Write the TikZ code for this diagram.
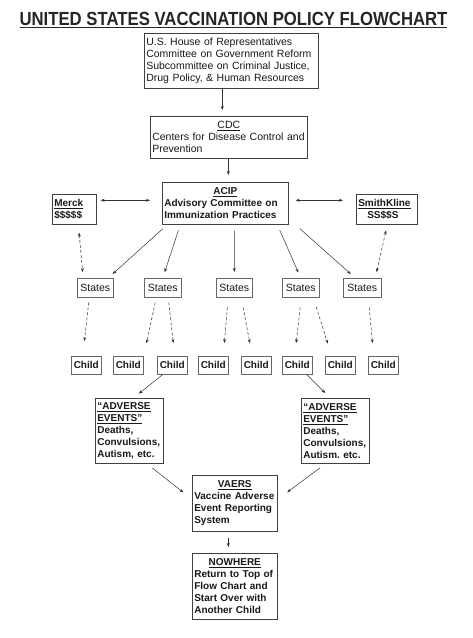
\documentclass[tikz,border=0pt]{standalone}
\usepackage{fontspec}
\setmainfont{Liberation Sans}
\usepackage{graphicx}
\usetikzlibrary{positioning,arrows.meta}

\begin{document}
\begin{tikzpicture}[
  x=1pt, y=-1pt,
  box/.style={rectangle, draw=black!75, line width=0.6pt, inner sep=2pt, anchor=north west, align=left, text=black!90, font=\fontsize{10.5}{12}\selectfont},
  boldbox/.style={box, font=\fontsize{10}{12}\selectfont\bfseries},
  statebox/.style={rectangle, draw=black!60, line width=0.5pt, inner sep=0pt, anchor=north west, minimum height=19pt, align=center, text=black!90, font=\fontsize{10.5}{12}\selectfont},
  childbox/.style={statebox, minimum width=30pt, minimum height=18pt, font=\fontsize{10}{12}\selectfont\bfseries},
  flow/.style={-{Stealth[length=4pt,width=3pt]}, line width=0.5pt, black!80},
  twoway/.style={flow, {Stealth[length=4pt,width=3pt]}-{Stealth[length=4pt,width=3pt]}},
  dashflow/.style={flow, dash pattern=on 3pt off 2pt}
]

\useasboundingbox[fill=white] (0,0) rectangle (472,638);

% Title
\node[text=black!85, font=\fontsize{19}{21}\selectfont\bfseries] (title) at (233.5,20) {\scalebox{0.88}[1]{\underline{UNITED STATES VACCINATION POLICY FLOWCHART}}};

% Top of chain
\node[box, text width=170pt, minimum height=55pt] (house) at (144,33) {U.S. House of Representatives\\Committee on Government Reform\\Subcommittee on Criminal Justice,\\Drug Policy, \& Human Resources};
\node[box, text width=153pt, minimum height=42pt] (cdc) at (150,116) {\makebox[\linewidth]{\underline{CDC}}\\Centers for Disease Control and\\Prevention};
\node[boldbox, text width=122pt, minimum height=42pt] (acip) at (162,182) {\makebox[\linewidth]{\underline{ACIP}}\\Advisory Committee on\\Immunization Practices};

% Drug companies
\node[boldbox, text width=40pt, minimum height=30pt] (merck) at (52,194) {\underline{Merck}\\\$\$\$\$\$};
\node[boldbox, text width=57pt, minimum height=30pt] (smith) at (356,194) {\underline{SmithKline}\\\hspace*{9pt}SS\$\$S};

% States
\node[statebox, minimum width=36pt] (st1) at (77,278) {States};
\node[statebox, minimum width=37pt] (st2) at (144,278) {States};
\node[statebox, minimum width=36pt] (st3) at (216,278) {States};
\node[statebox, minimum width=37pt] (st4) at (282,278) {States};
\node[statebox, minimum width=38pt] (st5) at (343,278) {States};

% Children
\node[childbox] (ch1) at (71,356) {Child};
\node[childbox] (ch2) at (113,356) {Child};
\node[childbox] (ch3) at (157,356) {Child};
\node[childbox] (ch4) at (198,356) {Child};
\node[childbox] (ch5) at (241,356) {Child};
\node[childbox] (ch6) at (282,356) {Child};
\node[childbox] (ch7) at (325,356) {Child};
\node[childbox] (ch8) at (368,356) {Child};

% Adverse events
\node[boldbox, text width=64pt, minimum height=65pt] (adv1) at (95,398) {\underline{“ADVERSE}\\\underline{EVENTS”}\\Deaths,\\Convulsions,\\Autism, etc.};
\node[boldbox, text width=64pt, minimum height=65pt] (adv2) at (301,398) {\underline{“ADVERSE}\\\underline{EVENTS”}\\Deaths,\\Convulsions,\\Autism.\ etc.};

% Bottom of chain
\node[boldbox, text width=81pt, minimum height=56pt] (vaers) at (192,475) {\makebox[\linewidth]{\underline{VAERS}}\\Vaccine Adverse\\Event Reporting\\System};
\node[boldbox, text width=81pt, minimum height=66pt] (nowhere) at (192,553) {\makebox[\linewidth]{\underline{NOWHERE}}\\Return to Top of\\Flow Chart and\\Start Over with\\Another Child};

% Main line
\draw[flow, shorten >=6pt] ([xshift=-9pt]house.south) -- ([xshift=-6.5pt]cdc.north);
\draw[flow, shorten >=7pt] ([xshift=-0.5pt]cdc.south) -- ([xshift=3pt]acip.north);
\draw[twoway, shorten <=4pt, shorten >=12pt] ([yshift=9pt]merck.east) -- ([yshift=3pt]acip.west);
\draw[twoway, shorten <=7pt, shorten >=13pt] ([yshift=3pt]acip.east) -- ([yshift=9pt]smith.west);

% ACIP to states
\draw[flow, shorten <=6pt, shorten >=6pt] ([xshift=-58pt]acip.south) -- ([xshift=13pt]st1.north);
\draw[flow, shorten <=6pt, shorten >=6pt] ([xshift=-45pt]acip.south) -- (st2.north);
\draw[flow, shorten <=6pt, shorten >=6pt] ([xshift=9pt]acip.south) -- (st3.north);
\draw[flow, shorten <=6pt, shorten >=6pt] ([xshift=52pt]acip.south) -- (st4.north);
\draw[flow, shorten <=6pt, shorten >=6pt] ([xshift=70pt]acip.south) -- ([xshift=-7pt]st5.north);

% Companies to states
\draw[twoway, dash pattern=on 3pt off 2pt, shorten <=8pt, shorten >=6pt] ([xshift=4pt]merck.south) -- ([xshift=-12pt]st1.north);
\draw[twoway, dash pattern=on 3pt off 2pt, shorten <=6pt, shorten >=6pt] ([xshift=0.5pt]smith.south) -- ([xshift=13pt]st5.north);

% States to children
\draw[dashflow, shorten <=5pt, shorten >=15pt] ([xshift=-6pt]st1.south) -- ([xshift=-3.5pt]ch1.north);
\draw[dashflow, shorten <=5pt, shorten >=13pt] ([xshift=-6.5pt]st2.south) -- ([xshift=15.5pt]ch2.north);
\draw[dashflow, shorten <=5pt, shorten >=13pt] ([xshift=5.5pt]st2.south) -- ([xshift=2.5pt]ch3.north);
\draw[dashflow, shorten <=10pt, shorten >=13pt] ([xshift=-6pt]st3.south) -- ([xshift=10pt]ch4.north);
\draw[dashflow, shorten <=10pt, shorten >=13pt] ([xshift=7pt]st3.south) -- ([xshift=-4pt]ch5.north);
\draw[dashflow, shorten <=10pt, shorten >=13pt] ([xshift=0.5pt]st4.south) -- ([xshift=-2.5pt]ch6.north);
\draw[dashflow, shorten <=10pt, shorten >=13pt] ([xshift=12.5pt]st4.south) -- ([xshift=-8.5pt]ch7.north);
\draw[dashflow, shorten <=10pt, shorten >=13pt] ([xshift=6pt]st5.south) -- ([xshift=-9.5pt]ch8.north);

% Children to adverse events
\draw[flow, shorten >=7pt] ([xshift=-9.5pt]ch3.south) -- ([xshift=4pt]adv1.north);
\draw[flow, shorten >=7pt] ([xshift=9.5pt]ch6.south) -- ([xshift=-5pt]adv2.north);

% Reporting
\draw[flow, shorten <=7pt, shorten >=11pt] ([xshift=17.5pt]adv1.south) -- ([yshift=4pt]vaers.west);
\draw[flow, shorten <=7pt, shorten >=12pt] ([xshift=-9.5pt]adv2.south) -- ([yshift=4pt]vaers.east);
\draw[flow, shorten <=6pt, shorten >=6pt] ([xshift=-6.5pt]vaers.south) -- ([xshift=-6.5pt]nowhere.north);

\end{tikzpicture}
\end{document}
